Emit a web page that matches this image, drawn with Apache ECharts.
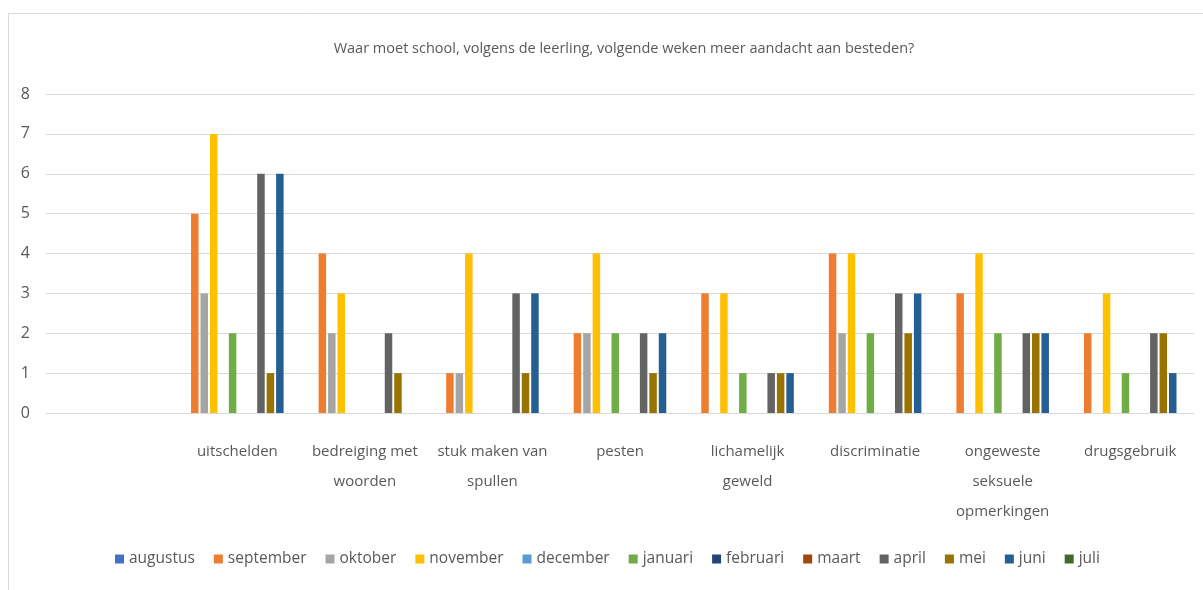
<!DOCTYPE html>
<html>
<head>
<meta charset="utf-8">
<script src="https://cdn.jsdelivr.net/npm/echarts@6/dist/echarts.min.js"></script>
<style>
  html, body { margin: 0; padding: 0; background: #fff; }
  #chart { width: 1203px; height: 590px; }
</style>
</head>
<body>
<div id="chart"></div>
<script>
// categories (first one is empty in the original sheet)
var categories = ['', 'uitschelden', 'bedreiging met\nwoorden', 'stuk maken van\nspullen', 'pesten',
    'lichamelijk\ngeweld', 'discriminatie', 'ongeweste\nseksuele\nopmerkingen', 'drugsgebruik'];
var yTicks = [0, 1, 2, 3, 4, 5, 6, 7, 8];

var months = ['augustus', 'september', 'oktober', 'november', 'december', 'januari',
    'februari', 'maart', 'april', 'mei', 'juni', 'juli'];

// values per month, same order as categories
var augustus  = [null, null, null, null, null, null, null, null, null];
var september = [null, 5, 4, 1, 2, 3, 4, 3, 2];
var oktober   = [null, 3, 2, 1, 2, null, 2, null, null];
var november  = [null, 7, 3, 4, 4, 3, 4, 4, 3];
var december  = [null, null, null, null, null, null, null, null, null];
var januari   = [null, 2, null, null, 2, 1, 2, 2, 1];
var februari  = [null, null, null, null, null, null, null, null, null];
var maart     = [null, null, null, null, null, null, null, null, null];
var april     = [null, 6, 2, 3, 2, 1, 3, 2, 2];
var mei       = [null, 1, 1, 1, 1, 1, 2, 2, 2];
var juni      = [null, 6, null, 3, 2, 1, 3, 2, 1];
var juli      = [null, null, null, null, null, null, null, null, null];

var monthData = [augustus, september, oktober, november, december, januari,
    februari, maart, april, mei, juni, juli];

var colors = ['#4472C4', '#ED7D31', '#A5A5A5', '#FFC000', '#5B9BD5', '#70AD47',
    '#264478', '#9E480E', '#636363', '#997300', '#255E91', '#43682B'];

var font = 'Open Sans';
var textColor = '#595959';

var dom = document.getElementById('chart');
var myChart = echarts.init(dom);

var series = [];
for (var i = 0; i < months.length; i++) {
    series.push({
        name: months[i],
        type: 'bar',
        barWidth: 7.5,
        barGap: '26%',
        data: monthData[i]
    });
}

var option = {
    color: colors,
    animation: false,
    title: {
        text: 'Waar moet school, volgens de leerling, volgende weken meer aandacht aan besteden?',
        left: 619,
        textAlign: 'center',
        top: 36,
        textStyle: { fontFamily: font, fontSize: 14.5, fontWeight: 'normal', color: textColor }
    },
    legend: {
        data: months,
        left: 110,
        top: 546,
        icon: 'rect',
        itemWidth: 9,
        itemHeight: 9,
        itemGap: 19,
        textStyle: { fontFamily: font, fontSize: 15.5, color: textColor }
    },
    grid: {
        left: 46,
        right: 9,
        top: 94,
        bottom: 177,
        containLabel: false
    },
    xAxis: {
        type: 'category',
        data: categories,
        axisTick: { show: false },
        axisLine: { lineStyle: { color: '#D9D9D9', width: 1 } },
        axisLabel: {
            interval: 0,
            margin: 24,
            lineHeight: 30,
            fontFamily: font,
            fontSize: 15,
            color: textColor
        }
    },
    yAxis: {
        type: 'value',
        min: yTicks[0],
        max: yTicks[yTicks.length - 1],
        interval: 1,
        axisLine: { show: false },
        axisTick: { show: false },
        splitLine: { lineStyle: { color: '#D9D9D9', width: 1 } },
        axisLabel: {
            margin: 16,
            fontFamily: font,
            fontSize: 16,
            color: textColor
        }
    },
    graphic: [{
        type: 'rect',
        silent: true,
        z: -1,
        shape: { x: 8.5, y: 13.5, width: 1400, height: 800 },
        style: { fill: 'none', stroke: '#D9D9D9', lineWidth: 1 }
    }],
    series: series
};

myChart.setOption(option, true);
</script>
</body>
</html>
